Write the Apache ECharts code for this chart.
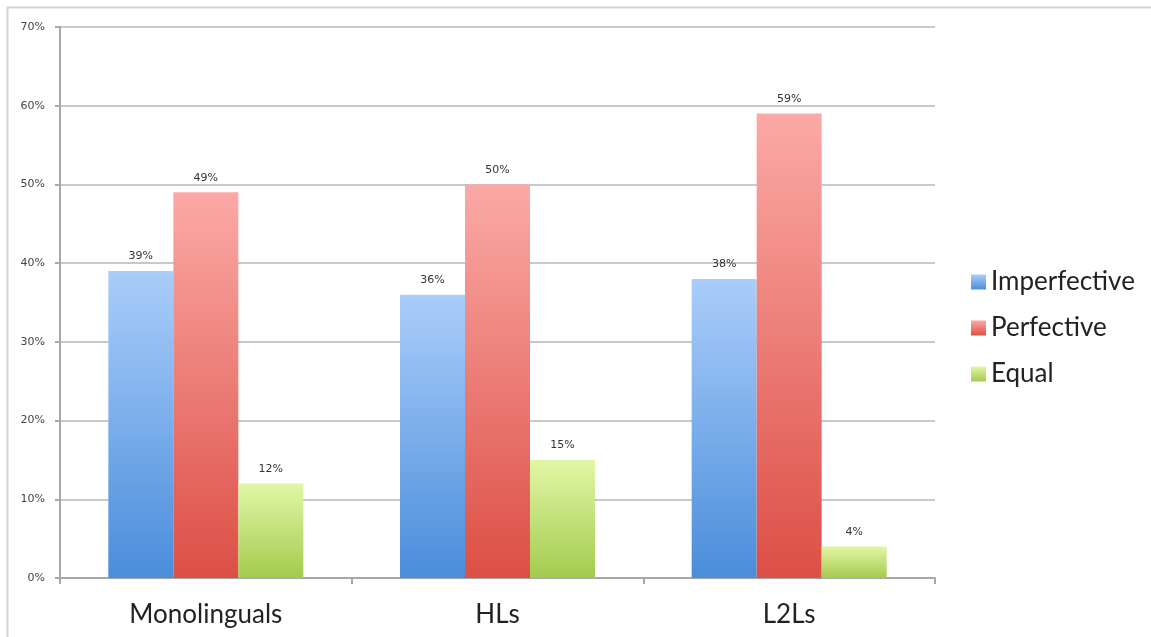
<!DOCTYPE html>
<html>
<head>
<meta charset="utf-8">
<script src="https://cdn.jsdelivr.net/npm/echarts@6/dist/echarts.min.js"></script>
<style>
  html, body { margin: 0; padding: 0; background: #fff; }
  #chart { width: 1151px; height: 637px; }
</style>
</head>
<body>
<div id="chart"></div>
<script>
// Share of responses per group, in percent
const groups = ['Monolinguals', 'HLs', 'L2Ls'];
const imperfective = [39, 36, 38];
const perfective = [49, 50, 59];
const equal = [12, 15, 4];
const seriesNames = ['Imperfective', 'Perfective', 'Equal'];

function vgrad(top, bottom) {
  return new echarts.graphic.LinearGradient(0, 0, 0, 1, [
    { offset: 0, color: top },
    { offset: 1, color: bottom }
  ]);
}

const palette = [
  { top: '#aacdfa', bottom: '#4a8ddb', swatch: '#5d9be3' },
  { top: '#fba9a6', bottom: '#dc4f45', swatch: '#e86a62' },
  { top: '#e2f6a6', bottom: '#a3cb4e', swatch: '#b9dc72' }
];

const valueLabel = {
  show: true,
  position: 'top',
  distance: 9,
  formatter: p => p.value + '%',
  fontFamily: 'DejaVu Sans',
  fontSize: 11,
  color: '#333'
};

function bar(name, values, i) {
  return {
    name: name,
    type: 'bar',
    data: values,
    barWidth: 65,
    barGap: '0%',
    itemStyle: { color: vgrad(palette[i].top, palette[i].bottom) },
    label: valueLabel,
    emphasis: { disabled: true }
  };
}

const chart = echarts.init(document.getElementById('chart'));
chart.setOption({
  animation: false,
  backgroundColor: '#fff',
  color: palette.map(p => p.swatch),
  graphic: [
    {
      type: 'rect',
      shape: { x: 7.5, y: 7.5, width: 1160, height: 640 },
      style: { fill: 'none', stroke: '#d4d4d4', lineWidth: 2 },
      silent: true
    }
  ],
  grid: { left: 60, right: 216, top: 27, bottom: 59, containLabel: false },
  legend: {
    orient: 'vertical',
    left: 966,
    top: 264,
    itemWidth: 15,
    itemHeight: 15,
    itemGap: 20,
    icon: 'rect',
    textStyle: { fontFamily: 'Lato', fontSize: 26, color: '#222' },
    data: seriesNames
  },
  xAxis: {
    type: 'category',
    data: groups,
    axisLine: { lineStyle: { color: '#a8a8a8', width: 2 } },
    axisTick: { show: true, length: 6, lineStyle: { color: '#a8a8a8', width: 2 } },
    axisLabel: { fontFamily: 'Lato', fontSize: 26, color: '#222', margin: 24 }
  },
  yAxis: {
    type: 'value',
    min: 0,
    max: 70,
    interval: 10,
    axisLine: { show: true, lineStyle: { color: '#a8a8a8', width: 2 } },
    axisTick: { show: true, length: 5, lineStyle: { color: '#a8a8a8', width: 2 } },
    axisLabel: {
      formatter: v => v + '%',
      fontFamily: 'DejaVu Sans',
      fontSize: 11,
      color: '#444',
      margin: 15
    },
    splitLine: { lineStyle: { color: '#c8c8c8', width: 2 } }
  },
  series: [
    bar(seriesNames[0], imperfective, 0),
    bar(seriesNames[1], perfective, 1),
    bar(seriesNames[2], equal, 2)
  ]
});
</script>
</body>
</html>
